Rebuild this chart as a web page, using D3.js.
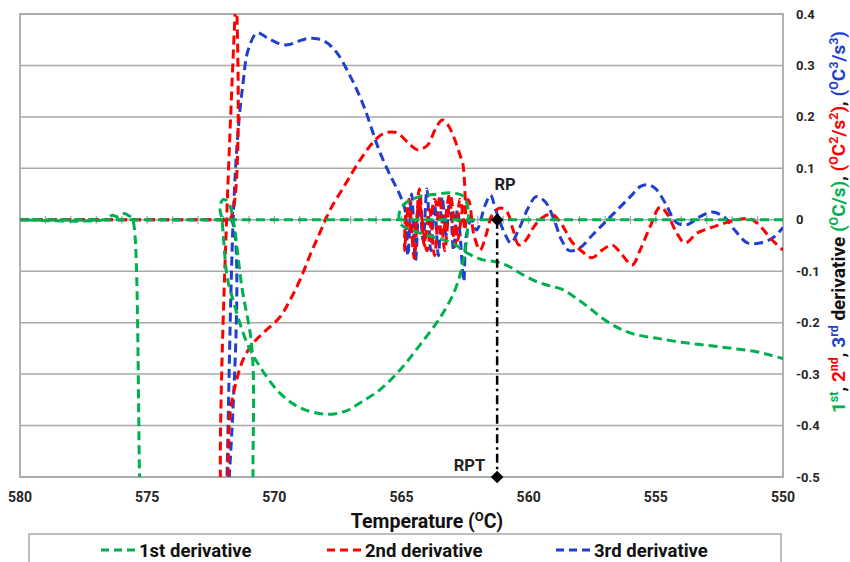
<!DOCTYPE html>
<html>
<head>
<meta charset="utf-8">
<script src="https://cdn.jsdelivr.net/npm/d3@7"></script>
<style>
  body { margin: 0; background: #fff; }
  text { font-family: Roboto, "Open Sans", "DejaVu Sans", sans-serif; font-weight: bold; }
</style>
</head>
<body>
<div id="chart"></div>
<script>
// Derivative curves of a cooling curve, temperature axis reversed

const tempTicks = [580, 575, 570, 565, 560, 555, 550]
const minorTicks = d3.range(551, 580)
const valueTicks = [0.4, 0.3, 0.2, 0.1, 0, -0.1, -0.2, -0.3, -0.4, -0.5]
const valueLabels = ['0.4', '0.3', '0.2', '0.1', '0', '-0.1', '-0.2', '-0.3', '-0.4', '-0.5']

const seriesNames = ['1st derivative', '2nd derivative', '3rd derivative']
const seriesColors = ['#00b050', '#ff0000', '#1f3fcf']

// [temperature, value] in recorded order
const firstDeriv = [
  [550, 0], [580, 0], [576.7, 0], [576.5, 0.006], [576.35, 0.009], [576.2, 0.006], [576.05, 0.01],
  [575.9, 0.012], [575.72, 0.008], [575.58, 0.001], [575.48, -0.03], [575.3, -0.5], [575.2, -0.8],
  [570.85, -0.8], [570.84, -0.5], [570.88, -0.25], [571.28, -0.13], [571.62, 0], [571.82, 0.035],
  [572.02, 0.039], [572.14, 0.025], [572.06, 0], [571.86, -0.11], [571.66, -0.15], [571.07, -0.24],
  [570.56, -0.286], [569.78, -0.337], [569.0, -0.365], [568.0, -0.378], [567.2, -0.372], [566.6, -0.355],
  [565.84, -0.33], [565.06, -0.292], [564.27, -0.243], [563.48, -0.19], [562.9, -0.137], [562.58, -0.082],
  [562.4, -0.02], [562.38, 0.02], [562.55, 0.045], [563.0, 0.052], [563.6, 0.05], [564.3, 0.045],
  [564.9, 0.03], [565.1, 0.01], [565.0, -0.01], [564.6, -0.02], [564.0, -0.03], [563.5, -0.037],
  [563.0, -0.045], [562.4, -0.065], [561.8, -0.078], [561.24, -0.082], [560.8, -0.09], [560.3, -0.105],
  [559.7, -0.12], [559.2, -0.128], [558.7, -0.135], [558.2, -0.15], [557.6, -0.172], [557.0, -0.195],
  [556.4, -0.212], [555.8, -0.223], [555.0, -0.23], [554.0, -0.238], [553.0, -0.244], [552.0, -0.25],
  [551.0, -0.257], [550.5, -0.263], [550, -0.27]
]

const secondDeriv = [
  [580, 0], [572.2, 0], [571.76, 0], [571.5, 0.45], [572.08, -0.55], [571.85, -0.6], [571.82, -0.5],
  [571.74, -0.376], [571.55, -0.325], [571.23, -0.272], [570.84, -0.24], [570.44, -0.22], [569.78, -0.189],
  [569.38, -0.156], [568.99, -0.117], [568.59, -0.068], [568.2, -0.024], [567.81, 0.019], [567.22, 0.068],
  [566.63, 0.116], [566.04, 0.155], [565.65, 0.169], [565.25, 0.17], [565.06, 0.165], [564.66, 0.146],
  [564.35, 0.136], [563.96, 0.146], [563.68, 0.175], [563.4, 0.194], [563.17, 0.184], [562.9, 0.155],
  [562.7, 0.126], [562.58, 0.107], [562.5, -0.02],
  [562.7, 0.04], [562.9, -0.05], [563.1, 0.035], [563.3, -0.06], [563.5, 0.045], [563.7, -0.07],
  [563.9, 0.02], [564.1, -0.05], [564.3, 0.06], [564.5, -0.075], [564.7, 0.04], [564.88, -0.06],
  [564.8, 0.02], [564.55, -0.04], [564.3, 0.03], [564.0, -0.06], [563.7, 0.04], [563.4, -0.03],
  [563.1, 0.05], [562.8, -0.04], [562.55, 0.03], [562.38, 0.039],
  [562.15, -0.03], [561.91, -0.059], [561.68, -0.03], [561.44, 0.009], [561.12, 0.023], [560.85, 0.015],
  [560.61, -0.02], [560.38, -0.049], [560.1, -0.039], [559.83, -0.016], [559.47, 0.004], [559.08, 0.011],
  [558.69, -0.01], [558.3, -0.043], [557.86, -0.063], [557.51, -0.074], [557.11, -0.059], [556.72, -0.049],
  [556.33, -0.068], [555.93, -0.088], [555.62, -0.059], [555.23, -0.014], [554.83, 0.025], [554.52, 0.009],
  [554.24, -0.02], [553.85, -0.045], [553.38, -0.026], [552.87, -0.016], [552.39, -0.008], [551.8, 0],
  [551.29, 0.002], [550.9, -0.012], [550.51, -0.035], [550.0, -0.059]
]

const thirdDeriv = [
  [580, 0], [572.1, 0], [571.7, 0], [571.9, -0.6], [571.86, -0.5], [571.62, 0], [571.43, 0.169],
  [571.23, 0.266], [571.03, 0.33], [570.68, 0.363], [570.29, 0.354], [569.89, 0.344], [569.5, 0.34],
  [569.11, 0.346], [568.71, 0.352], [568.32, 0.352], [567.93, 0.344], [567.53, 0.324], [567.14, 0.291],
  [566.75, 0.252], [566.43, 0.214], [566.12, 0.169], [565.84, 0.13], [565.45, 0.087], [565.06, 0.048],
  [564.86, 0.019],
  [564.75, -0.07], [564.6, 0.05], [564.45, -0.08], [564.3, 0.04], [564.15, -0.04], [564.0, 0.06],
  [563.85, -0.06], [563.7, 0.03], [563.55, -0.07], [563.4, 0.045], [563.25, -0.03], [563.1, 0.04],
  [562.95, -0.06], [562.8, 0.02], [562.68, -0.04], [562.55, -0.12],
  [562.45, -0.03], [562.25, 0.0], [562.05, -0.02], [561.7, 0.03], [561.5, 0.048], [561.3, 0.02],
  [561.0, -0.02], [560.7, -0.045], [560.4, -0.02], [560.0, 0.025], [559.7, 0.045], [559.35, 0.035],
  [559.0, 0.0], [558.7, -0.04], [558.4, -0.06], [558.0, -0.055], [557.5, -0.03], [557.0, -0.005],
  [556.5, 0.02], [556.0, 0.045], [555.6, 0.065], [555.3, 0.068], [555.0, 0.06], [554.6, 0.03],
  [554.2, -0.005], [553.8, -0.01], [553.3, 0.005], [552.8, 0.015], [552.3, 0.005], [551.9, -0.02],
  [551.4, -0.045], [550.9, -0.045], [550.4, -0.035], [550.0, -0.015]
]

const rpTemp = 561.24
const rpPoints = [[rpTemp, 0], [rpTemp, -0.5]]

// chart setup
let chart = {
  width: 850,
  height: 562,
  left: 20, right: 783, top: 14, bottom: 477,
}

const x = d3.scaleLinear().domain([580, 550]).range([chart.left, chart.right])
const y = d3.scaleLinear().domain([-0.5, 0.4]).range([chart.bottom, chart.top])

const svg = d3.select('#chart').append('svg')
  .attr('width', chart.width)
  .attr('height', chart.height)

svg.append('defs').append('clipPath').attr('id', 'plot-clip')
  .append('rect')
  .attr('x', chart.left).attr('y', chart.top)
  .attr('width', chart.right - chart.left).attr('height', chart.bottom - chart.top)

// gridlines
svg.append('g').selectAll('line')
  .data(valueTicks)
  .enter().append('line')
  .attr('x1', chart.left).attr('x2', chart.right)
  .attr('y1', d => y(d)).attr('y2', d => y(d))
  .attr('stroke', '#a9a9a9').attr('stroke-width', 1.5)

svg.append('rect')
  .attr('x', chart.left).attr('y', chart.top)
  .attr('width', chart.right - chart.left).attr('height', chart.bottom - chart.top)
  .attr('fill', 'none').attr('stroke', '#a9a9a9').attr('stroke-width', 1.8)

// horizontal axis crossing at zero with minor ticks
svg.append('g').selectAll('line')
  .data(minorTicks)
  .enter().append('line')
  .attr('x1', d => x(d)).attr('x2', d => x(d))
  .attr('y1', y(0) - 4).attr('y2', y(0) + 4)
  .attr('stroke', '#a9a9a9').attr('stroke-width', 1.3)

// tick labels
svg.append('g').selectAll('text')
  .data(tempTicks)
  .enter().append('text')
  .attr('x', d => x(d)).attr('y', 502)
  .attr('text-anchor', 'middle')
  .attr('font-size', 14)
  .attr('fill', '#262626')
  .text(d => d)

svg.append('g').selectAll('text')
  .data(valueTicks)
  .enter().append('text')
  .attr('x', 796).attr('y', d => y(d) + 4.5)
  .attr('font-size', 13)
  .attr('fill', '#262626')
  .text((d, i) => valueLabels[i])

// axis titles
let xTitle = svg.append('text')
  .attr('x', 427).attr('y', 528)
  .attr('text-anchor', 'middle')
  .attr('font-size', 19.5)
  .attr('fill', '#111')
xTitle.append('tspan').text('Temperature (')
xTitle.append('tspan').attr('dy', -7).attr('font-size', 13).text('O')
xTitle.append('tspan').attr('dy', 7).text('C)')

const titleParts = [
  {t: '1', c: 0}, {t: 'st', c: 0, sup: true}, {t: ', ', c: -1},
  {t: '2', c: 1}, {t: 'nd', c: 1, sup: true}, {t: ', ', c: -1},
  {t: '3', c: 2}, {t: 'rd', c: 2, sup: true}, {t: ' derivative ', c: -1},
  {t: '(', c: 0}, {t: 'O', c: 0, sup: true}, {t: 'C/s)', c: 0}, {t: ', ', c: -1},
  {t: '(', c: 1}, {t: 'O', c: 1, sup: true}, {t: 'C', c: 1}, {t: '2', c: 1, sup: true},
  {t: '/s', c: 1}, {t: '2', c: 1, sup: true}, {t: ')', c: 1}, {t: ', ', c: -1},
  {t: '(', c: 2}, {t: 'O', c: 2, sup: true}, {t: 'C', c: 2}, {t: '3', c: 2, sup: true},
  {t: '/s', c: 2}, {t: '3', c: 2, sup: true}, {t: ')', c: 2},
]

let yTitle = svg.append('text')
  .attr('transform', 'translate(845, 222) rotate(-90)')
  .attr('text-anchor', 'middle')
  .attr('font-size', 19)
let wasSup = false
titleParts.forEach(p => {
  let dy = 0
  if (p.sup && !wasSup) dy = -7
  if (!p.sup && wasSup) dy = 7
  yTitle.append('tspan')
    .attr('dy', dy)
    .attr('font-size', p.sup ? 12.5 : 19)
    .attr('fill', p.c < 0 ? '#111' : seriesColors[p.c])
    .text(p.t)
  wasSup = !!p.sup
})

// curves
const line = d3.line()
  .x(d => x(d[0]))
  .y(d => y(d[1]))
  .curve(d3.curveCatmullRom.alpha(0.5))

const plot = svg.append('g').attr('clip-path', 'url(#plot-clip)')
const seriesData = [firstDeriv, secondDeriv, thirdDeriv]

;[2, 1, 0].forEach(i => {
  plot.append('path')
    .attr('d', line(seriesData[i]))
    .attr('fill', 'none')
    .attr('stroke', seriesColors[i])
    .attr('stroke-width', 3)
    .attr('stroke-dasharray', '9,5')
    .attr('stroke-linejoin', 'round')
})

// RP and RPT
svg.append('line')
  .attr('x1', x(rpPoints[0][0])).attr('y1', y(rpPoints[0][1]))
  .attr('x2', x(rpPoints[1][0])).attr('y2', y(rpPoints[1][1]))
  .attr('stroke', '#000').attr('stroke-width', 2.5)
  .attr('stroke-dasharray', '9,4,2.5,4')

svg.append('g').selectAll('path')
  .data(rpPoints)
  .enter().append('path')
  .attr('d', d3.symbol(d3.symbolSquare, 80))
  .attr('transform', d => `translate(${x(d[0])},${y(d[1])}) rotate(45)`)
  .attr('fill', '#000')

svg.append('text')
  .attr('x', x(rpTemp) + 8).attr('y', 190)
  .attr('text-anchor', 'middle')
  .attr('font-size', 16.5)
  .attr('fill', '#222')
  .text('RP')

svg.append('text')
  .attr('x', x(rpTemp) - 12).attr('y', 471)
  .attr('text-anchor', 'end')
  .attr('font-size', 16.5)
  .attr('fill', '#222')
  .text('RPT')

// legend
svg.append('rect')
  .attr('x', 29).attr('y', 534)
  .attr('width', 752).attr('height', 40)
  .attr('fill', '#fff').attr('stroke', '#a9a9a9').attr('stroke-width', 1.5)

const legendX = [101, 327, 556]
let legend = svg.append('g').selectAll('g')
  .data(seriesNames)
  .enter().append('g')
  .attr('transform', (d, i) => `translate(${legendX[i]}, 550)`)

legend.append('line')
  .attr('x1', 0).attr('x2', 34)
  .attr('stroke', (d, i) => seriesColors[i])
  .attr('stroke-width', 3)
  .attr('stroke-dasharray', '8,5')

legend.append('text')
  .attr('x', 38).attr('y', 6.5)
  .attr('font-size', 18.5)
  .attr('fill', '#111')
  .text(d => d)
</script>
</body>
</html>
